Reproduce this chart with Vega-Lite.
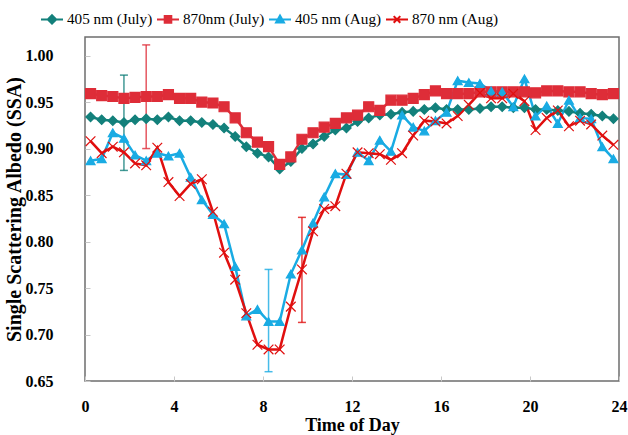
{
  "$schema": "https://vega.github.io/schema/vega-lite/v6.json",
  "width": 534,
  "height": 344,
  "autosize": {"type": "none"},
  "padding": {"left": 85, "top": 37, "right": 9, "bottom": 54},
  "background": "white",
  "config": {"view": {"stroke": "#6e6e6e", "strokeWidth": 1.5}, "font": "Liberation Serif"},
  "datasets": {
    "err": [
      {"hour": 1.75, "series": "405 nm (July)", "lo": 0.8765, "hi": 0.979},
      {"hour": 2.75, "series": "870nm (July)", "lo": 0.900, "hi": 1.0115},
      {"hour": 8.25, "series": "405 nm (Aug)", "lo": 0.660, "hi": 0.770},
      {"hour": 9.75, "series": "870 nm (Aug)", "lo": 0.713, "hi": 0.826}
    ],
    "ssa": [
      {"hour": 0.25, "series": "405 nm (July)", "ssa": 0.934},
      {"hour": 0.75, "series": "405 nm (July)", "ssa": 0.931},
      {"hour": 1.25, "series": "405 nm (July)", "ssa": 0.930},
      {"hour": 1.75, "series": "405 nm (July)", "ssa": 0.928},
      {"hour": 2.25, "series": "405 nm (July)", "ssa": 0.931},
      {"hour": 2.75, "series": "405 nm (July)", "ssa": 0.932},
      {"hour": 3.25, "series": "405 nm (July)", "ssa": 0.931},
      {"hour": 3.75, "series": "405 nm (July)", "ssa": 0.934},
      {"hour": 4.25, "series": "405 nm (July)", "ssa": 0.930},
      {"hour": 4.75, "series": "405 nm (July)", "ssa": 0.930},
      {"hour": 5.25, "series": "405 nm (July)", "ssa": 0.928},
      {"hour": 5.75, "series": "405 nm (July)", "ssa": 0.926},
      {"hour": 6.25, "series": "405 nm (July)", "ssa": 0.922},
      {"hour": 6.75, "series": "405 nm (July)", "ssa": 0.913},
      {"hour": 7.25, "series": "405 nm (July)", "ssa": 0.902},
      {"hour": 7.75, "series": "405 nm (July)", "ssa": 0.895},
      {"hour": 8.25, "series": "405 nm (July)", "ssa": 0.891},
      {"hour": 8.75, "series": "405 nm (July)", "ssa": 0.878},
      {"hour": 9.25, "series": "405 nm (July)", "ssa": 0.886},
      {"hour": 9.75, "series": "405 nm (July)", "ssa": 0.900},
      {"hour": 10.25, "series": "405 nm (July)", "ssa": 0.905},
      {"hour": 10.75, "series": "405 nm (July)", "ssa": 0.913},
      {"hour": 11.25, "series": "405 nm (July)", "ssa": 0.920},
      {"hour": 11.75, "series": "405 nm (July)", "ssa": 0.922},
      {"hour": 12.25, "series": "405 nm (July)", "ssa": 0.929},
      {"hour": 12.75, "series": "405 nm (July)", "ssa": 0.933},
      {"hour": 13.25, "series": "405 nm (July)", "ssa": 0.936},
      {"hour": 13.75, "series": "405 nm (July)", "ssa": 0.937},
      {"hour": 14.25, "series": "405 nm (July)", "ssa": 0.939},
      {"hour": 14.75, "series": "405 nm (July)", "ssa": 0.940},
      {"hour": 15.25, "series": "405 nm (July)", "ssa": 0.942},
      {"hour": 15.75, "series": "405 nm (July)", "ssa": 0.944},
      {"hour": 16.25, "series": "405 nm (July)", "ssa": 0.942},
      {"hour": 16.75, "series": "405 nm (July)", "ssa": 0.942},
      {"hour": 17.25, "series": "405 nm (July)", "ssa": 0.942},
      {"hour": 17.75, "series": "405 nm (July)", "ssa": 0.943},
      {"hour": 18.25, "series": "405 nm (July)", "ssa": 0.945},
      {"hour": 18.75, "series": "405 nm (July)", "ssa": 0.945},
      {"hour": 19.25, "series": "405 nm (July)", "ssa": 0.944},
      {"hour": 19.75, "series": "405 nm (July)", "ssa": 0.944},
      {"hour": 20.25, "series": "405 nm (July)", "ssa": 0.942},
      {"hour": 20.75, "series": "405 nm (July)", "ssa": 0.942},
      {"hour": 21.25, "series": "405 nm (July)", "ssa": 0.941},
      {"hour": 21.75, "series": "405 nm (July)", "ssa": 0.940},
      {"hour": 22.25, "series": "405 nm (July)", "ssa": 0.938},
      {"hour": 22.75, "series": "405 nm (July)", "ssa": 0.937},
      {"hour": 23.25, "series": "405 nm (July)", "ssa": 0.935},
      {"hour": 23.75, "series": "405 nm (July)", "ssa": 0.932},

      {"hour": 0.25, "series": "870nm (July)", "ssa": 0.959},
      {"hour": 0.75, "series": "870nm (July)", "ssa": 0.957},
      {"hour": 1.25, "series": "870nm (July)", "ssa": 0.956},
      {"hour": 1.75, "series": "870nm (July)", "ssa": 0.954},
      {"hour": 2.25, "series": "870nm (July)", "ssa": 0.955},
      {"hour": 2.75, "series": "870nm (July)", "ssa": 0.956},
      {"hour": 3.25, "series": "870nm (July)", "ssa": 0.956},
      {"hour": 3.75, "series": "870nm (July)", "ssa": 0.958},
      {"hour": 4.25, "series": "870nm (July)", "ssa": 0.954},
      {"hour": 4.75, "series": "870nm (July)", "ssa": 0.954},
      {"hour": 5.25, "series": "870nm (July)", "ssa": 0.950},
      {"hour": 5.75, "series": "870nm (July)", "ssa": 0.949},
      {"hour": 6.25, "series": "870nm (July)", "ssa": 0.945},
      {"hour": 6.75, "series": "870nm (July)", "ssa": 0.933},
      {"hour": 7.25, "series": "870nm (July)", "ssa": 0.917},
      {"hour": 7.75, "series": "870nm (July)", "ssa": 0.907},
      {"hour": 8.25, "series": "870nm (July)", "ssa": 0.902},
      {"hour": 8.75, "series": "870nm (July)", "ssa": 0.883},
      {"hour": 9.25, "series": "870nm (July)", "ssa": 0.891},
      {"hour": 9.75, "series": "870nm (July)", "ssa": 0.910},
      {"hour": 10.25, "series": "870nm (July)", "ssa": 0.917},
      {"hour": 10.75, "series": "870nm (July)", "ssa": 0.923},
      {"hour": 11.25, "series": "870nm (July)", "ssa": 0.927},
      {"hour": 11.75, "series": "870nm (July)", "ssa": 0.933},
      {"hour": 12.25, "series": "870nm (July)", "ssa": 0.936},
      {"hour": 12.75, "series": "870nm (July)", "ssa": 0.945},
      {"hour": 13.25, "series": "870nm (July)", "ssa": 0.941},
      {"hour": 13.75, "series": "870nm (July)", "ssa": 0.952},
      {"hour": 14.25, "series": "870nm (July)", "ssa": 0.952},
      {"hour": 14.75, "series": "870nm (July)", "ssa": 0.954},
      {"hour": 15.25, "series": "870nm (July)", "ssa": 0.958},
      {"hour": 15.75, "series": "870nm (July)", "ssa": 0.962},
      {"hour": 16.25, "series": "870nm (July)", "ssa": 0.959},
      {"hour": 16.75, "series": "870nm (July)", "ssa": 0.959},
      {"hour": 17.25, "series": "870nm (July)", "ssa": 0.959},
      {"hour": 17.75, "series": "870nm (July)", "ssa": 0.961},
      {"hour": 18.25, "series": "870nm (July)", "ssa": 0.961},
      {"hour": 18.75, "series": "870nm (July)", "ssa": 0.961},
      {"hour": 19.25, "series": "870nm (July)", "ssa": 0.961},
      {"hour": 19.75, "series": "870nm (July)", "ssa": 0.961},
      {"hour": 20.25, "series": "870nm (July)", "ssa": 0.960},
      {"hour": 20.75, "series": "870nm (July)", "ssa": 0.962},
      {"hour": 21.25, "series": "870nm (July)", "ssa": 0.962},
      {"hour": 21.75, "series": "870nm (July)", "ssa": 0.961},
      {"hour": 22.25, "series": "870nm (July)", "ssa": 0.961},
      {"hour": 22.75, "series": "870nm (July)", "ssa": 0.959},
      {"hour": 23.25, "series": "870nm (July)", "ssa": 0.958},
      {"hour": 23.75, "series": "870nm (July)", "ssa": 0.959},

      {"hour": 0.25, "series": "405 nm (Aug)", "ssa": 0.887},
      {"hour": 0.75, "series": "405 nm (Aug)", "ssa": 0.889},
      {"hour": 1.25, "series": "405 nm (Aug)", "ssa": 0.917},
      {"hour": 1.75, "series": "405 nm (Aug)", "ssa": 0.911},
      {"hour": 2.25, "series": "405 nm (Aug)", "ssa": 0.893},
      {"hour": 2.75, "series": "405 nm (Aug)", "ssa": 0.887},
      {"hour": 3.25, "series": "405 nm (Aug)", "ssa": 0.895},
      {"hour": 3.75, "series": "405 nm (Aug)", "ssa": 0.892},
      {"hour": 4.25, "series": "405 nm (Aug)", "ssa": 0.895},
      {"hour": 4.75, "series": "405 nm (Aug)", "ssa": 0.869},
      {"hour": 5.25, "series": "405 nm (Aug)", "ssa": 0.845},
      {"hour": 5.75, "series": "405 nm (Aug)", "ssa": 0.829},
      {"hour": 6.25, "series": "405 nm (Aug)", "ssa": 0.819},
      {"hour": 6.75, "series": "405 nm (Aug)", "ssa": 0.773},
      {"hour": 7.25, "series": "405 nm (Aug)", "ssa": 0.720},
      {"hour": 7.75, "series": "405 nm (Aug)", "ssa": 0.727},
      {"hour": 8.25, "series": "405 nm (Aug)", "ssa": 0.714},
      {"hour": 8.75, "series": "405 nm (Aug)", "ssa": 0.714},
      {"hour": 9.25, "series": "405 nm (Aug)", "ssa": 0.765},
      {"hour": 9.75, "series": "405 nm (Aug)", "ssa": 0.791},
      {"hour": 10.25, "series": "405 nm (Aug)", "ssa": 0.820},
      {"hour": 10.75, "series": "405 nm (Aug)", "ssa": 0.848},
      {"hour": 11.25, "series": "405 nm (Aug)", "ssa": 0.873},
      {"hour": 11.75, "series": "405 nm (Aug)", "ssa": 0.872},
      {"hour": 12.25, "series": "405 nm (Aug)", "ssa": 0.896},
      {"hour": 12.75, "series": "405 nm (Aug)", "ssa": 0.887},
      {"hour": 13.25, "series": "405 nm (Aug)", "ssa": 0.909},
      {"hour": 13.75, "series": "405 nm (Aug)", "ssa": 0.897},
      {"hour": 14.25, "series": "405 nm (Aug)", "ssa": 0.936},
      {"hour": 14.75, "series": "405 nm (Aug)", "ssa": 0.923},
      {"hour": 15.25, "series": "405 nm (Aug)", "ssa": 0.919},
      {"hour": 15.75, "series": "405 nm (Aug)", "ssa": 0.930},
      {"hour": 16.25, "series": "405 nm (Aug)", "ssa": 0.939},
      {"hour": 16.75, "series": "405 nm (Aug)", "ssa": 0.973},
      {"hour": 17.25, "series": "405 nm (Aug)", "ssa": 0.971},
      {"hour": 17.75, "series": "405 nm (Aug)", "ssa": 0.970},
      {"hour": 18.25, "series": "405 nm (Aug)", "ssa": 0.962},
      {"hour": 18.75, "series": "405 nm (Aug)", "ssa": 0.961},
      {"hour": 19.25, "series": "405 nm (Aug)", "ssa": 0.945},
      {"hour": 19.75, "series": "405 nm (Aug)", "ssa": 0.975},
      {"hour": 20.25, "series": "405 nm (Aug)", "ssa": 0.935},
      {"hour": 20.75, "series": "405 nm (Aug)", "ssa": 0.946},
      {"hour": 21.25, "series": "405 nm (Aug)", "ssa": 0.927},
      {"hour": 21.75, "series": "405 nm (Aug)", "ssa": 0.952},
      {"hour": 22.25, "series": "405 nm (Aug)", "ssa": 0.933},
      {"hour": 22.75, "series": "405 nm (Aug)", "ssa": 0.932},
      {"hour": 23.25, "series": "405 nm (Aug)", "ssa": 0.902},
      {"hour": 23.75, "series": "405 nm (Aug)", "ssa": 0.889},

      {"hour": 0.25, "series": "870 nm (Aug)", "ssa": 0.908},
      {"hour": 0.75, "series": "870 nm (Aug)", "ssa": 0.895},
      {"hour": 1.25, "series": "870 nm (Aug)", "ssa": 0.902},
      {"hour": 1.75, "series": "870 nm (Aug)", "ssa": 0.896},
      {"hour": 2.25, "series": "870 nm (Aug)", "ssa": 0.884},
      {"hour": 2.75, "series": "870 nm (Aug)", "ssa": 0.882},
      {"hour": 3.25, "series": "870 nm (Aug)", "ssa": 0.901},
      {"hour": 3.75, "series": "870 nm (Aug)", "ssa": 0.864},
      {"hour": 4.25, "series": "870 nm (Aug)", "ssa": 0.849},
      {"hour": 4.75, "series": "870 nm (Aug)", "ssa": 0.862},
      {"hour": 5.25, "series": "870 nm (Aug)", "ssa": 0.867},
      {"hour": 5.75, "series": "870 nm (Aug)", "ssa": 0.832},
      {"hour": 6.25, "series": "870 nm (Aug)", "ssa": 0.788},
      {"hour": 6.75, "series": "870 nm (Aug)", "ssa": 0.759},
      {"hour": 7.25, "series": "870 nm (Aug)", "ssa": 0.723},
      {"hour": 7.75, "series": "870 nm (Aug)", "ssa": 0.689},
      {"hour": 8.25, "series": "870 nm (Aug)", "ssa": 0.684},
      {"hour": 8.75, "series": "870 nm (Aug)", "ssa": 0.684},
      {"hour": 9.25, "series": "870 nm (Aug)", "ssa": 0.730},
      {"hour": 9.75, "series": "870 nm (Aug)", "ssa": 0.770},
      {"hour": 10.25, "series": "870 nm (Aug)", "ssa": 0.811},
      {"hour": 10.75, "series": "870 nm (Aug)", "ssa": 0.835},
      {"hour": 11.25, "series": "870 nm (Aug)", "ssa": 0.838},
      {"hour": 11.75, "series": "870 nm (Aug)", "ssa": 0.873},
      {"hour": 12.25, "series": "870 nm (Aug)", "ssa": 0.896},
      {"hour": 12.75, "series": "870 nm (Aug)", "ssa": 0.895},
      {"hour": 13.25, "series": "870 nm (Aug)", "ssa": 0.894},
      {"hour": 13.75, "series": "870 nm (Aug)", "ssa": 0.888},
      {"hour": 14.25, "series": "870 nm (Aug)", "ssa": 0.895},
      {"hour": 14.75, "series": "870 nm (Aug)", "ssa": 0.914},
      {"hour": 15.25, "series": "870 nm (Aug)", "ssa": 0.930},
      {"hour": 15.75, "series": "870 nm (Aug)", "ssa": 0.929},
      {"hour": 16.25, "series": "870 nm (Aug)", "ssa": 0.927},
      {"hour": 16.75, "series": "870 nm (Aug)", "ssa": 0.935},
      {"hour": 17.25, "series": "870 nm (Aug)", "ssa": 0.947},
      {"hour": 17.75, "series": "870 nm (Aug)", "ssa": 0.960},
      {"hour": 18.25, "series": "870 nm (Aug)", "ssa": 0.954},
      {"hour": 18.75, "series": "870 nm (Aug)", "ssa": 0.954},
      {"hour": 19.25, "series": "870 nm (Aug)", "ssa": 0.959},
      {"hour": 19.75, "series": "870 nm (Aug)", "ssa": 0.951},
      {"hour": 20.25, "series": "870 nm (Aug)", "ssa": 0.920},
      {"hour": 20.75, "series": "870 nm (Aug)", "ssa": 0.933},
      {"hour": 21.25, "series": "870 nm (Aug)", "ssa": 0.941},
      {"hour": 21.75, "series": "870 nm (Aug)", "ssa": 0.924},
      {"hour": 22.25, "series": "870 nm (Aug)", "ssa": 0.930},
      {"hour": 22.75, "series": "870 nm (Aug)", "ssa": 0.926},
      {"hour": 23.25, "series": "870 nm (Aug)", "ssa": 0.914},
      {"hour": 23.75, "series": "870 nm (Aug)", "ssa": 0.904}
    ]
  },
  "encoding": {
    "x": {
      "field": "hour", "type": "quantitative",
      "scale": {"domain": [0, 24], "nice": false, "zero": false},
      "axis": {
        "values": [0, 4, 8, 12, 16, 20, 24], "title": "Time of Day", "grid": false, "ticks": true, "tickSize": -5, "tickColor": "#c8c8c8", "tickWidth": 1, "domain": false,
        "labelFont": "Liberation Serif", "labelFontSize": 16, "labelFontWeight": "bold", "labelColor": "black", "labelPadding": 22, "labelFlush": false,
        "titleFont": "Liberation Serif", "titleFontSize": 18, "titleFontWeight": "bold", "titleColor": "black", "titlePadding": 2
      }
    }
  },
  "layer": [
    {
      "data": {"name": "err"},
      "mark": {"type": "rule", "strokeWidth": 1.5, "opacity": 0.8},
      "encoding": {
        "y": {
          "field": "lo", "type": "quantitative",
          "scale": {"domain": [0.65, 1.02], "nice": false, "zero": false},
          "axis": {
            "values": [0.65, 0.7, 0.75, 0.8, 0.85, 0.9, 0.95, 1.0], "format": ".2f",
            "title": "Single  Scattering Albedo (SSA)", "grid": false, "ticks": true, "tickSize": -5, "tickColor": "#c8c8c8", "tickWidth": 1, "domain": false,
            "labelFont": "Liberation Serif", "labelFontSize": 16, "labelFontWeight": "bold", "labelColor": "black", "labelPadding": 37, "labelFlush": false,
            "titleFont": "Liberation Serif", "titleFontSize": 20, "titleFontWeight": "bold", "titleColor": "black", "titlePadding": 1
          }
        },
        "y2": {"field": "hi"},
        "color": {
          "field": "series", "type": "nominal",
          "scale": {
            "domain": ["405 nm (July)", "870nm (July)", "405 nm (Aug)", "870 nm (Aug)"],
            "range": ["#13807B", "#DE2D38", "#19ABE3", "#E00F0F"]
          },
          "legend": {
            "title": null, "orient": "none", "legendX": -45, "legendY": -30, "direction": "horizontal", "columns": 4,
            "labelFont": "Liberation Serif", "labelFontSize": 15.2, "labelColor": "black", "labelOffset": 3, "columnPadding": 0,
            "padding": 0, "symbolSize": 484, "symbolStrokeWidth": 2, "symbolOpacity": 1,
            "encode": {
              "symbols": {
                "update": {
                  "shape": {"signal": "datum.value === '405 nm (July)' ? 'M-1,0H1M0,-0.38L0.38,0L0,0.38L-0.38,0Z' : datum.value === '870nm (July)' ? 'M-1,0H1M-0.3,-0.3H0.3V0.3H-0.3Z' : datum.value === '405 nm (Aug)' ? 'M-1,0H1M0,-0.36L0.36,0.28H-0.36Z' : 'M-1,0H1M-0.3,-0.3L0.3,0.3M-0.3,0.3L0.3,-0.3'"},
                  "fill": {"signal": "scale('color', datum.value)"},
                  "stroke": {"signal": "scale('color', datum.value)"},
                  "size": {"value": 484},
                  "strokeWidth": {"value": 2},
                  "opacity": {"value": 1}
                }
              }
            }
          }
        }
      }
    },
    {
      "data": {"name": "err"},
      "mark": {"type": "tick", "orient": "horizontal", "size": 8, "thickness": 1.5, "opacity": 0.8},
      "encoding": {
        "y": {"field": "lo", "type": "quantitative"},
        "color": {"field": "series", "type": "nominal"}
      }
    },
    {
      "data": {"name": "err"},
      "mark": {"type": "tick", "orient": "horizontal", "size": 8, "thickness": 1.5, "opacity": 0.8},
      "encoding": {
        "y": {"field": "hi", "type": "quantitative"},
        "color": {"field": "series", "type": "nominal"}
      }
    },
    {
      "data": {"name": "ssa"},
      "mark": {"type": "line", "strokeWidth": 2.5},
      "encoding": {
        "y": {"field": "ssa", "type": "quantitative"},
        "color": {"field": "series", "type": "nominal"}
      }
    },
    {
      "data": {"name": "ssa"},
      "mark": {"type": "point", "filled": true, "opacity": 1, "strokeWidth": 1.2},
      "encoding": {
        "y": {"field": "ssa", "type": "quantitative"},
        "color": {"field": "series", "type": "nominal"},
        "stroke": {
          "field": "series", "type": "nominal", "legend": null,
          "scale": {"range": ["#19ABE3", "#13807B", "#E00F0F", "#DE2D38"]}
        },
        "shape": {
          "field": "series", "type": "nominal", "legend": null,
          "scale": {"range": ["triangle-up", "diamond", "M-1,-1L1,1M-1,1L1,-1", "square"]}
        },
        "size": {
          "field": "series", "type": "nominal", "legend": null,
          "scale": {"range": [80, 100, 64, 64]}
        }
      }
    }
  ]
}
